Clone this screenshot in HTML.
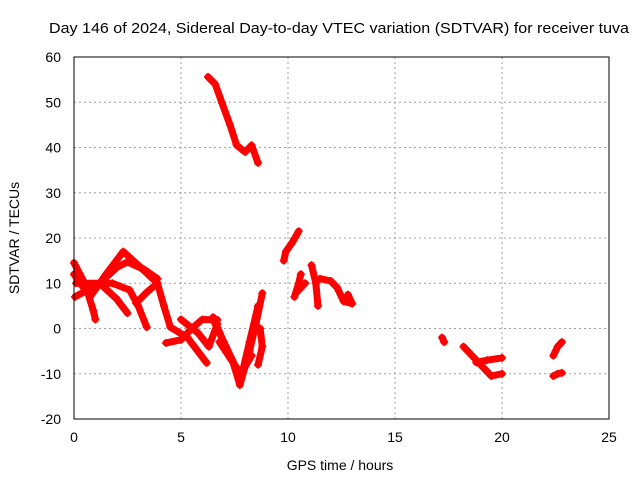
<!DOCTYPE html>
<html><head><meta charset="utf-8"><style>
body{margin:0;background:#fff}
svg{display:block;font-family:"Liberation Sans",sans-serif}
</style></head><body>
<svg id="c" width="640" height="480">
<text x="339" y="33" font-size="15" textLength="580" lengthAdjust="spacingAndGlyphs" text-anchor="middle">Day 146 of 2024, Sidereal Day-to-day VTEC variation (SDTVAR) for receiver tuva</text>
<g id="grid"></g>
<g id="series"></g>
<rect x="74" y="57" width="535" height="362" fill="none" stroke="#000" stroke-width="1"/>
<g id="ticks"></g>
<text x="340" y="470" font-size="14" text-anchor="middle">GPS time / hours</text>
<text x="0" y="0" font-size="14" text-anchor="middle" transform="translate(19,238) rotate(-90)">SDTVAR / TECUs</text>
</svg>
<script>
const xTicks=[0,5,10,15,20,25];
const yTicks=[-20,-10,0,10,20,30,40,50,60];
const tracks=[
 [[6.26,55.6],[6.6,54],[6.92,49.8],[7.29,45],[7.6,40.5],[8.0,39],[8.3,40.5],[8.6,36.6]],
 [[0,14.5],[0.5,10],[0.9,4],[1.0,2]],
 [[0,12],[0.75,7],[1.5,12],[2.3,17],[3.0,14],[3.9,10],[4.2,5],[4.5,0.3],[5.3,-2],[6.2,-7.6]],
 [[0.05,7],[1.2,10],[2.0,13.5],[2.5,14.7],[3.3,13],[3.9,11]],
 [[0.1,10],[1.8,10],[2.6,8.5],[3.0,5],[3.4,0.3]],
 [[1.2,10],[2.0,6.5],[2.5,3.4]],
 [[2.9,5.6],[3.4,8],[3.9,10]],
 [[4.3,-3.2],[5.0,-2.5],[5.5,0],[6.0,2],[6.7,1.9]],
 [[5.0,2],[5.8,-1],[6.3,-4],[6.7,1]],
 [[6.5,2.5],[7.0,-3],[7.4,-7],[7.75,-12.5],[8.2,-5],[8.5,1],[8.8,7.8]],
 [[6.6,1],[7.1,-4],[7.5,-8],[7.8,-11],[8.2,-3],[8.6,5]],
 [[6.8,-3],[7.5,-8],[7.8,-10],[8.3,-6]],
 [[8.7,0],[8.8,-4],[8.6,-8]],
 [[9.8,15],[9.9,17],[10.2,19],[10.5,21.5]],
 [[10.3,7],[10.5,10],[10.6,12],[10.4,8],[10.8,10]],
 [[11.1,14],[11.3,10],[11.4,5]],
 [[11.5,11],[12.0,10.5],[12.3,9],[12.6,6],[13.0,5.5],[12.8,7.5]],
 [[17.2,-2],[17.3,-3]],
 [[18.2,-4],[18.6,-6],[18.8,-7],[19.3,-9.5],[19.5,-10.5],[20.0,-10]],
 [[18.8,-7.5],[19.3,-7],[20.0,-6.5]],
 [[22.4,-6],[22.6,-4],[22.8,-3]],
 [[22.4,-10.5],[22.6,-10],[22.8,-9.8]]
];
const X=h=>74+h*(535/25), Y=v=>419-(v+20)*(362/80);
const NS="http://www.w3.org/2000/svg";
const grid=document.getElementById('grid'),ticks=document.getElementById('ticks'),ser=document.getElementById('series');
function mk(t,a,p){const e=document.createElementNS(NS,t);for(const k in a)e.setAttribute(k,a[k]);p.appendChild(e);return e;}
xTicks.forEach(t=>{const x=X(t);
 if(t>0&&t<25){const g=mk('line',{x1:x,x2:x,y1:57,y2:419,stroke:'#a0a0a0','stroke-dasharray':'2,3'},grid);
 
 }
 const l=mk('text',{x:x,y:442,'font-size':14,'text-anchor':'middle'},ticks);l.textContent=t;
 
 });
yTicks.forEach(t=>{const y=Y(t);
 if(t>-20&&t<60){const g=mk('line',{x1:74,x2:609,y1:y,y2:y,stroke:'#a0a0a0','stroke-dasharray':'2,3'},grid);
 
 }
 const l=mk('text',{x:61,y:y+5,'font-size':14,'text-anchor':'end'},ticks);l.textContent=t;
 
 });
tracks.forEach(tr=>{
 const pl=mk('polyline',{points:tr.map(p=>X(p[0])+','+Y(p[1])).join(' '),fill:'none',stroke:'#f00','stroke-width':7,'stroke-linejoin':'round','stroke-linecap':'round'},ser);
 
 
 tr.forEach(p=>{const x=X(p[0]),y=Y(p[1]);
  const m=mk('path',{d:`M${x-4},${y}H${x+4}M${x},${y-4}V${y+4}`,stroke:'#f00','stroke-width':1.5},ser);
  
  });
});
</script>
</body></html>
